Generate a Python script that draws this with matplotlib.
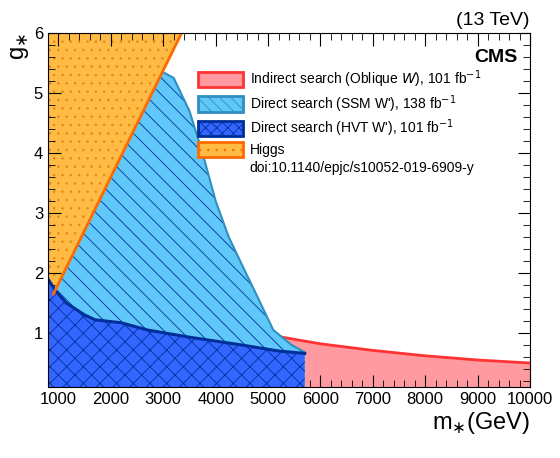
import numpy as np
import matplotlib.pyplot as plt
from matplotlib.patches import Patch
from matplotlib.ticker import MultipleLocator

# --- data ---
higgs_m_at2 = 1100.0     # Higgs line passes m=1100 at g=2
higgs_m_at6 = 3350.0     # and m=3350 at g=6

ssm_m = [2990, 3200, 3500, 3750, 4000, 4250, 4550, 4800, 5100, 5450, 5700]
ssm_g = [5.35, 5.25, 4.7, 4.0, 3.2, 2.6, 2.05, 1.6, 1.05, 0.8, 0.68]

hvt_m = [800, 950, 1150, 1500, 1700, 2200, 2700, 3500, 4500, 5200, 5700]
hvt_g = [1.9, 1.7, 1.5, 1.3, 1.22, 1.17, 1.05, 0.93, 0.8, 0.7, 0.66]

obl_m = [5000, 6000, 7000, 8000, 9000, 10000]
obl_g = [0.97, 0.82, 0.71, 0.62, 0.55, 0.50]

labels = ["Indirect search (Oblique $W$), 101 fb$^{-1}$",
          "Direct search (SSM W'), 138 fb$^{-1}$",
          "Direct search (HVT W'), 101 fb$^{-1}$",
          "Higgs",
          "doi:10.1140/epjc/s10052-019-6909-y"]

plt.rcParams['font.family'] = ['Liberation Sans', 'DejaVu Sans']
plt.rcParams['hatch.linewidth'] = 0.6

fig = plt.figure(figsize=(5.6, 4.58), dpi=100)
ax = fig.add_axes([48/560, 1-387/458, 482/560, 354/458])
ylo = 0.1

red_f, red_e = '#ff9aa0', '#ff3333'
lb_f, lb_e = '#5fc8f8', '#2f8fc0'
db_f, db_e = '#3366ff', '#002f99'
or_f, or_e = '#ffbb44', '#ff6a00'

# Higgs: line m = m0 + k*(g-2)
k = (higgs_m_at6 - higgs_m_at2) / (6 - 2)
g_line = np.array([1.65, 6.0])
m_line = higgs_m_at2 + k * (g_line - 2)
ax.fill_betweenx([ylo, 1.65, 6.0], 800, [m_line[0], m_line[0], m_line[1]],
                 facecolor=or_f, edgecolor='#e08a20', hatch='..', linewidth=0, zorder=1)
ax.plot(m_line, g_line, color=or_e, lw=2, zorder=4)

# Oblique
ax.fill_between(obl_m, ylo, obl_g, facecolor=red_f, edgecolor='none', zorder=1)
ax.plot(obl_m, obl_g, color=red_e, lw=2, zorder=1.5)

# SSM: region between Higgs line and SSM boundary
g_s = np.array(ssm_g)
m_left = np.clip(higgs_m_at2 + k * (g_s - 2), 800, None)
ax.fill_betweenx(g_s, m_left, ssm_m, facecolor=lb_f, edgecolor=db_e, hatch='\\\\',
                 linewidth=0, zorder=2)
ax.fill_betweenx([ylo, ssm_g[-1]], 800, [ssm_m[-1], ssm_m[-1]], facecolor=lb_f,
                 edgecolor=db_e, hatch='\\\\', linewidth=0, zorder=2)
ax.plot(ssm_m, ssm_g, color=lb_e, lw=1.5, zorder=2.5)

# HVT
ax.fill_between(hvt_m + [5700], ylo, hvt_g + [ylo], facecolor=db_f, edgecolor=db_e,
                hatch='xx', linewidth=0, zorder=3)
ax.plot(hvt_m, hvt_g, color=db_e, lw=2.2, zorder=3.5)

ax.set_xlim(800, 10000)
ax.set_ylim(ylo, 6)
ax.set_xticks(range(1000, 10001, 1000))
ax.set_yticks(range(1, 7))
ax.xaxis.set_minor_locator(MultipleLocator(200))
ax.yaxis.set_minor_locator(MultipleLocator(0.2))
ax.tick_params(which='both', direction='in', top=True, right=True, labelsize=12)
ax.tick_params(which='major', length=9)
ax.tick_params(which='minor', length=5)
for s in ax.spines.values():
    s.set_zorder(10)

ax.set_xlabel('m$_{\\ast}$(GeV)', fontsize=17, loc='right', labelpad=2)
ax.set_ylabel('g$_{\\ast}$', fontsize=17, loc='top', labelpad=2)
ax.set_title('(13 TeV)', loc='right', fontsize=14, pad=6)
ax.text(0.975, 0.955, 'CMS', transform=ax.transAxes, ha='right', va='top',
        fontsize=14, fontweight='bold', zorder=11)

handles = [Patch(facecolor=red_f, edgecolor=red_e, lw=2),
           Patch(facecolor=lb_f, edgecolor=lb_e, hatch='\\\\\\', lw=2),
           Patch(facecolor=db_f, edgecolor=db_e, hatch='xxx', lw=2),
           Patch(facecolor=or_f, edgecolor=or_e, hatch='..', lw=2),
           Patch(facecolor='none', edgecolor='none')]
leg = ax.legend(handles, labels, loc='upper left', bbox_to_anchor=(0.3, 0.915),
                frameon=False, fontsize=10, handlelength=3.2, handleheight=1.3,
                labelspacing=0.2, borderaxespad=0, handletextpad=0.5)
leg.set_zorder(11)

fig.savefig('out.png', dpi=100)
